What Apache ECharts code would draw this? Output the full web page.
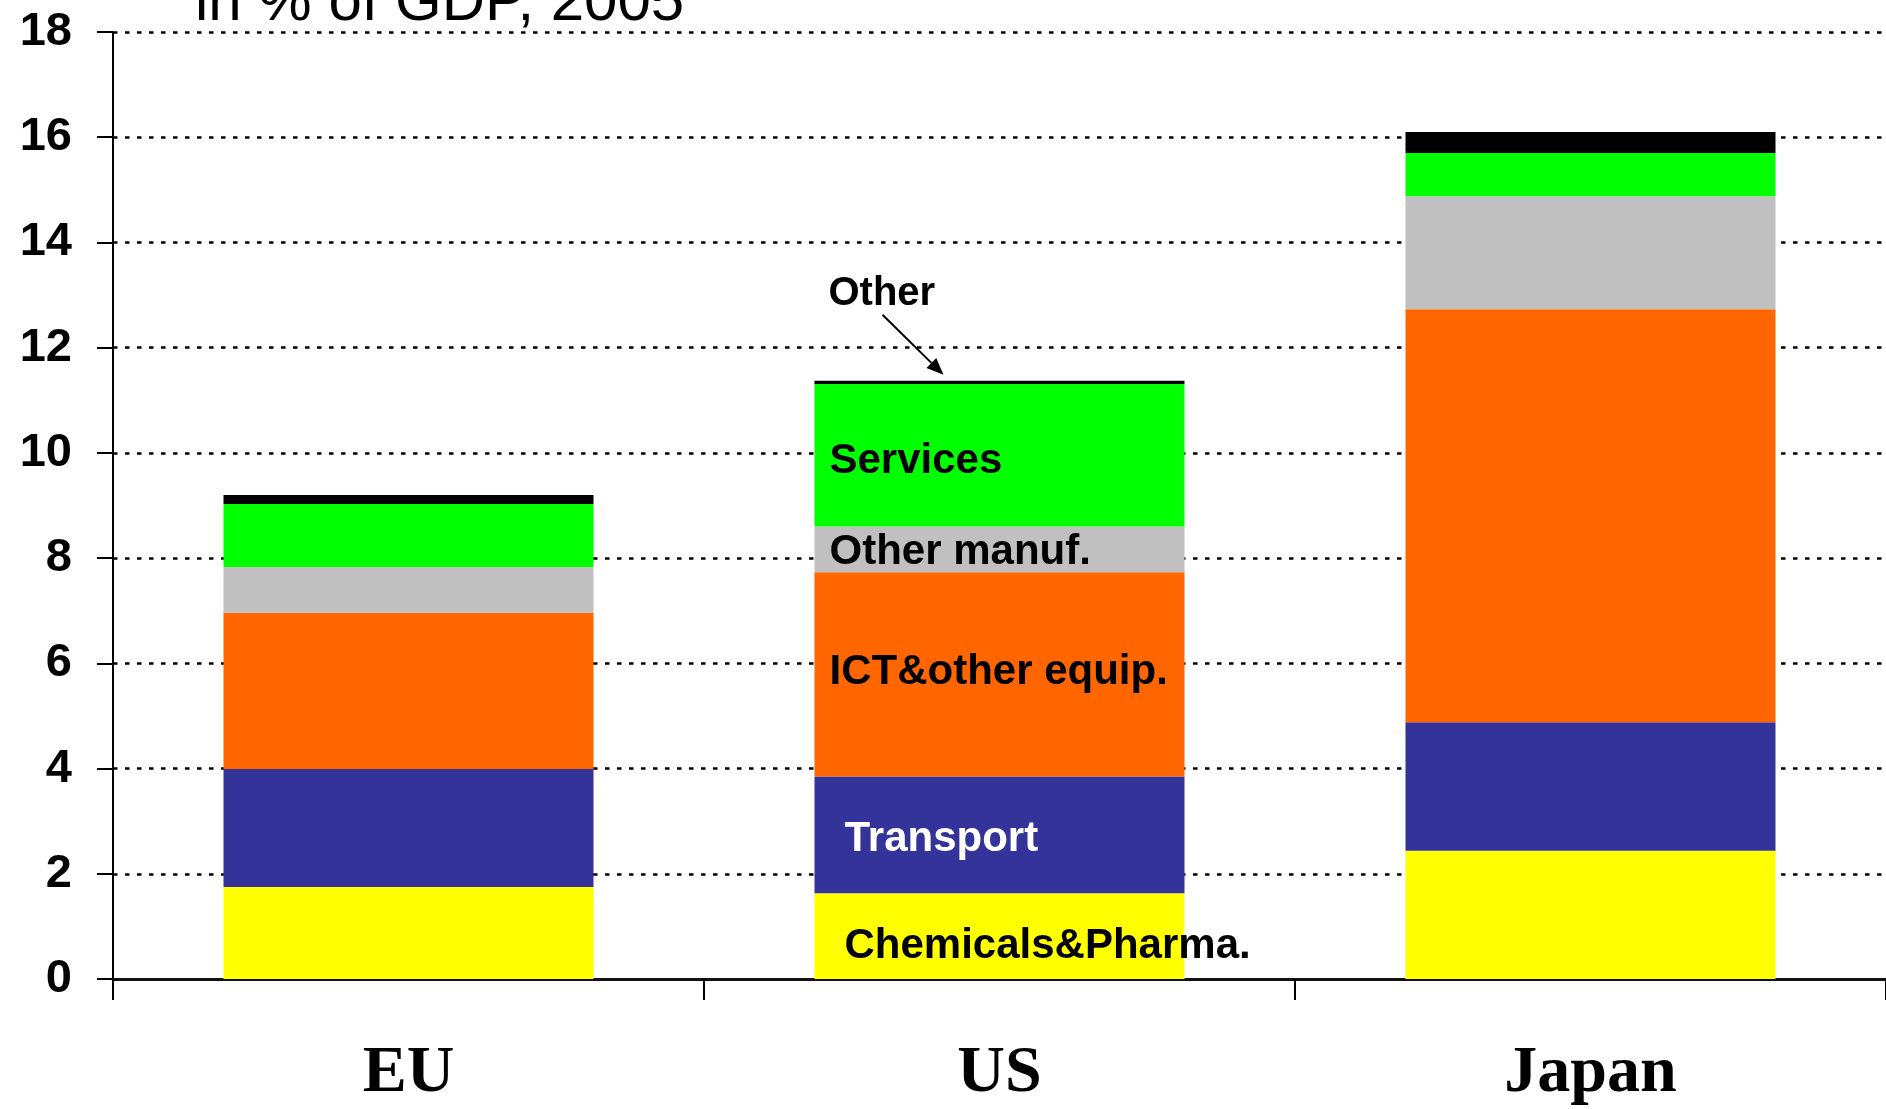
<!DOCTYPE html>
<html>
<head>
<meta charset="utf-8">
<title>R&amp;D intensity by sector</title>
<script src="https://cdn.jsdelivr.net/npm/echarts@6/dist/echarts.min.js"></script>
<style>
    html, body { margin: 0; padding: 0; background: #fff; }
    #chart { width: 1886px; height: 1109px; }
</style>
</head>
<body>
<div id="chart"></div>
<script>
// in % of GDP, 2005, bottom to top
const regions = ['EU', 'US', 'Japan'];
const chemicals = [1.75, 1.63, 2.44];
const transport = [2.24, 2.22, 2.44];
const ictEquip = [2.97, 3.88, 7.85];
const otherManuf = [0.87, 0.87, 2.15];
const services = [1.20, 2.71, 0.82];
const other = [0.17, 0.06, 0.40];

const sans = '"Liberation Sans", Arial, sans-serif';
const serif = '"Liberation Serif", "Times New Roman", serif';

// colours and where the in-bar label of the US column sits
const sectors = [
    { name: 'Chemicals&Pharma.', data: chemicals, color: '#FFFF00', text: '#000', dist: 30, dy: 10 },
    { name: 'Transport', data: transport, color: '#333399', text: '#fff', dist: 30, dy: 5 },
    { name: 'ICT&other equip.', data: ictEquip, color: '#FF6600', text: '#000', dist: 15, dy: -2 },
    { name: 'Other manuf.', data: otherManuf, color: '#C0C0C0', text: '#000', dist: 15, dy: 3 },
    { name: 'Services', data: services, color: '#00FF00', text: '#000', dist: 15, dy: 6 },
    { name: 'Other', data: other, color: '#000000', text: null }
];

const chart = echarts.init(document.getElementById('chart'), null, { renderer: 'canvas' });

chart.setOption({
    backgroundColor: '#fff',
    animation: false,
    grid: { left: 113, right: 0, top: 32, bottom: 130 },
    xAxis: {
        type: 'category',
        data: regions,
        boundaryGap: true,
        axisLine: { lineStyle: { color: '#111', width: 3 } },
        axisTick: { show: true, interval: 0, length: 21, lineStyle: { color: '#000', width: 2 } },
        axisLabel: { color: '#000', fontFamily: serif, fontWeight: 'bold', fontSize: 66, margin: 62, interval: 0 }
    },
    yAxis: {
        type: 'value',
        min: 0,
        max: 18,
        interval: 2,
        axisLine: { show: true, lineStyle: { color: '#000', width: 2 } },
        axisTick: { show: true, length: 16, lineStyle: { color: '#000', width: 2 } },
        axisLabel: { color: '#000', fontFamily: sans, fontWeight: 'bold', fontSize: 47, margin: 41 },
        splitLine: { show: true, lineStyle: { color: '#000', width: 2.5, type: [4.5, 7.5] } }
    },
    series: sectors.map(s => ({
        name: s.name,
        type: 'bar',
        stack: 'total',
        barWidth: 370,
        itemStyle: { color: s.color },
        data: s.data.map((v, i) => {
            if (regions[i] !== 'US' || !s.text) return v;
            return {
                value: v,
                label: {
                    show: true,
                    position: 'insideLeft',
                    distance: s.dist,
                    offset: [0, s.dy],
                    formatter: s.name,
                    color: s.text,
                    fontFamily: sans,
                    fontWeight: 'bold',
                    fontSize: 42
                }
            };
        })
    }))
});

// title (cut off at the top) and the arrow pointing at the thin "Other" slice of the US bar
const usIdx = regions.indexOf('US');
const usTotal = sectors.reduce((sum, s) => sum + s.data[usIdx], 0);
const usTop = chart.convertToPixel({ gridIndex: 0 }, ['US', usTotal]);
const a0 = [usTop[0] - 117, usTop[1] - 66];
const a1 = [usTop[0] - 56, usTop[1] - 6];
const ang = Math.atan2(a1[1] - a0[1], a1[0] - a0[0]);
const headLen = 17, headHalf = 7;
const back = [a1[0] - headLen * Math.cos(ang), a1[1] - headLen * Math.sin(ang)];
const perp = [-Math.sin(ang) * headHalf, Math.cos(ang) * headHalf];

chart.setOption({
    graphic: [
        {
            type: 'text',
            x: 195,
            y: 3,
            style: { text: 'in % of GDP, 2005', fill: '#000', font: '60px ' + sans, verticalAlign: 'middle' }
        },
        {
            type: 'text',
            x: usTop[0] - 171,
            y: usTop[1] - 87,
            style: { text: 'Other', fill: '#000', font: 'bold 40px ' + sans, verticalAlign: 'middle' }
        },
        {
            type: 'line',
            shape: { x1: a0[0], y1: a0[1], x2: back[0], y2: back[1] },
            style: { stroke: '#000', lineWidth: 2 }
        },
        {
            type: 'polygon',
            shape: { points: [a1, [back[0] + perp[0], back[1] + perp[1]], [back[0] - perp[0], back[1] - perp[1]]] },
            style: { fill: '#000' }
        }
    ]
});

window.addEventListener('resize', function () {
    chart.resize();
});
</script>
</body>
</html>
